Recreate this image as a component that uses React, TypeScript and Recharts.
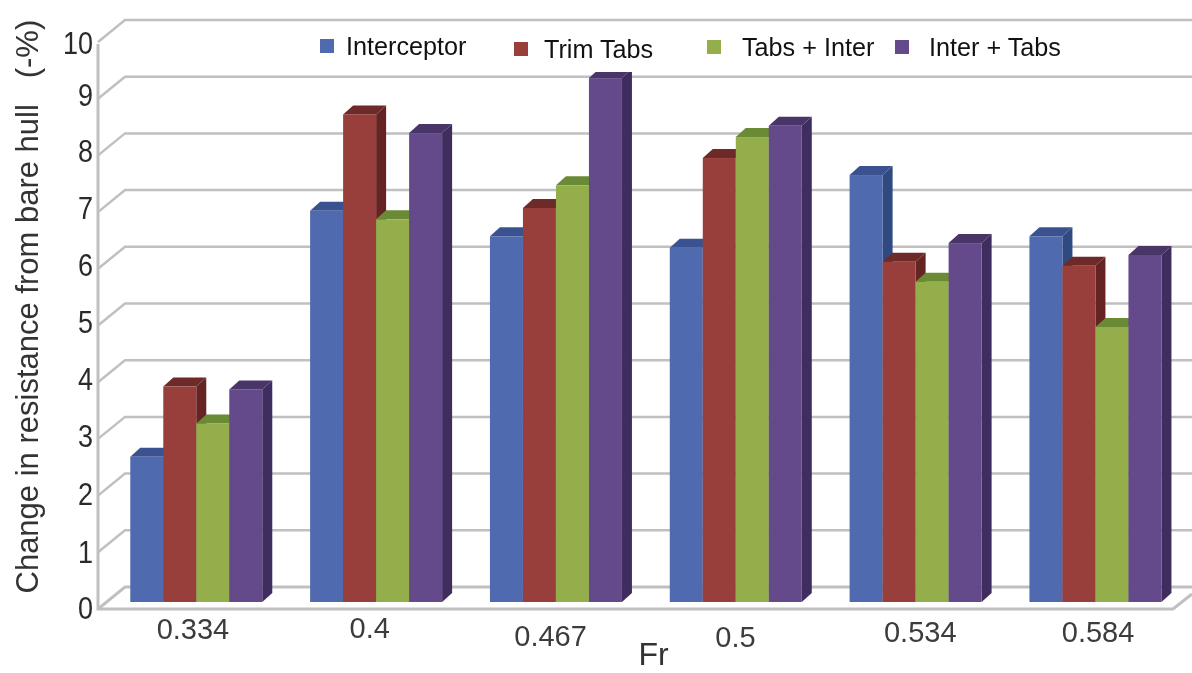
import { BarChart, Bar, XAxis, YAxis, CartesianGrid, Legend } from "recharts";

const froude = ["0.334", "0.4", "0.467", "0.5", "0.534", "0.584"];
const interceptor = [2.56, 6.9, 6.45, 6.25, 7.53, 6.45];
const trimTabs = [3.8, 8.6, 6.95, 7.83, 6.0, 5.93];
const tabsInter = [3.15, 6.75, 7.35, 8.2, 5.65, 4.85];
const interTabs = [3.75, 8.27, 9.24, 8.4, 6.33, 6.12];
const yTicks = [0, 1, 2, 3, 4, 5, 6, 7, 8, 9, 10];

const data = froude.map((fr, i) => ({
  fr,
  interceptor: interceptor[i],
  trimTabs: trimTabs[i],
  tabsInter: tabsInter[i],
  interTabs: interTabs[i],
}));

const FONT = '"Liberation Sans", Arial, sans-serif';
const WALL = "#c0c0c0";

// the labels in the scan are not quite on the grid, so nudge them
const legendLeft = [20, 214, 407, 595];
const legendGap = [12, 16, 21, 20];
const legendNudge = [-2, 1, -1, -1];
const xNudge = [-3, -6, -5, 0, 5, 3];
const xNudgeY = [3, 2, 10, 11, 6, 6];
const yNudge = [3, 4, 2, 1, 1, 0, 0, 0, 0, 0, 5];

// bar with a fake depth, like the excel 3d column
const Bar3D = (props: any) => {
  const { x, y, width, height, fill, dark, top } = props;
  const dx = 10;
  const dy = 9;
  const r = x + width;
  const b = y + height;
  return (
    <g>
      <polygon points={`${r},${y} ${r + dx},${y - dy} ${r + dx},${b - dy} ${r},${b}`} fill={dark} />
      <polygon points={`${x},${y} ${x + dx},${y - dy} ${r + dx},${y - dy} ${r},${y}`} fill={top} />
      <rect x={x} y={y} width={width} height={height} fill={fill} />
    </g>
  );
};

const GridLine = (props: any) => {
  const { y1, x, y, width, height } = props;
  const front = y1 + 7;
  const back = y1 - 15;
  const isFloor = Math.abs(y1 - (y + height)) < 1;
  return (
    <g>
      <polyline
        points={`98,${front} 125,${back} ${x + width + 7},${back}`}
        fill="none"
        stroke={WALL}
        strokeWidth={isFloor ? 3 : 2.5}
      />
      {isFloor && (
        <polyline
          points={`98,${y + 9} 98,${front} 1173,${front} 1192,${front - 15}`}
          fill="none"
          stroke={WALL}
          strokeWidth={3}
        />
      )}
    </g>
  );
};

const YTick = (props: any) => {
  const { x, y, payload } = props;
  const label = String(payload.value);
  return (
    <text
      x={x - 5}
      y={y}
      dy={14 + yNudge[yTicks.indexOf(payload.value)]}
      textAnchor="end"
      fontFamily={FONT}
      fontSize={32}
      fill="#2a2a2a"
      textLength={label.length * 15}
      lengthAdjust="spacingAndGlyphs"
    >
      {label}
    </text>
  );
};

const XTick = (props: any) => {
  const { x, y, payload, index } = props;
  return (
    <text
      x={x + xNudge[index]}
      y={y}
      dy={26 + xNudgeY[index]}
      textAnchor="middle"
      fontFamily={FONT}
      fontSize={29}
      fill="#3c3c3c"
    >
      {payload.value}
    </text>
  );
};

const LegendBox = (props: any) => (
  <div style={{ position: "relative", width: 775, height: 48, background: "#fff" }}>
    {props.payload.map((p: any, i: number) => (
      <div
        key={p.value}
        style={{ position: "absolute", left: legendLeft[i], top: legendNudge[i], height: 48, display: "flex", alignItems: "center" }}
      >
        <span style={{ width: 14, height: 14, background: p.color, marginRight: legendGap[i] }} />
        <span style={{ fontFamily: FONT, fontSize: 25.2, color: "#111", whiteSpace: "nowrap" }}>{p.value}</span>
      </div>
    ))}
  </div>
);

export default function App() {
  return (
    <div style={{ position: "absolute", left: 0, top: 0, background: "#fff", filter: "blur(0.5px)" }}>
      <BarChart
        width={1192}
        height={673}
        data={data}
        margin={{ top: 35, right: 7, left: 0, bottom: 0 }}
        barCategoryGap="13.5%"
        barGap={0}
      >
        <CartesianGrid vertical={false} horizontal={(p: any) => <GridLine key={p.key} {...p} />} />
        <XAxis
          dataKey="fr"
          height={71}
          interval={0}
          axisLine={false}
          tickLine={false}
          tick={<XTick />}
          label={{ value: "Fr", position: "insideBottom", offset: 8, dx: 8, fontFamily: FONT, fontSize: 32, fill: "#333" }}
        />
        <YAxis
          width={106}
          domain={[0, 10]}
          ticks={yTicks}
          interval={0}
          axisLine={false}
          tickLine={false}
          tick={<YTick />}
          label={{
            value: "Change in resistance from bare hull\u00a0\u00a0\u00a0(-%)",
            angle: -90,
            position: "insideLeft",
            offset: 0,
            dx: 27,
            dy: 275,
            fontFamily: FONT,
            fontSize: 31,
            fill: "#333",
          }}
        />
        <Legend
          layout="horizontal"
          verticalAlign="middle"
          align="center"
          itemSorter={null}
          content={<LegendBox />}
          wrapperStyle={{ left: 300, top: 24, width: 775, height: 48 }}
        />
        <Bar dataKey="interceptor" name="Interceptor" fill="#4f6aae" isAnimationActive={false}
          shape={(p: any) => <Bar3D {...p} dark="#2f4a80" top="#3a5390" />} />
        <Bar dataKey="trimTabs" name="Trim Tabs" fill="#983f3c" isAnimationActive={false}
          shape={(p: any) => <Bar3D {...p} dark="#652323" top="#6e2a28" />} />
        <Bar dataKey="tabsInter" name="Tabs + Inter" fill="#93ae4b" isAnimationActive={false}
          shape={(p: any) => <Bar3D {...p} dark="#64802f" top="#6b8a35" />} />
        <Bar dataKey="interTabs" name="Inter + Tabs" fill="#654a8b" isAnimationActive={false}
          shape={(p: any) => <Bar3D {...p} dark="#3f2d5f" top="#4a3568" />} />
      </BarChart>
    </div>
  );
}
